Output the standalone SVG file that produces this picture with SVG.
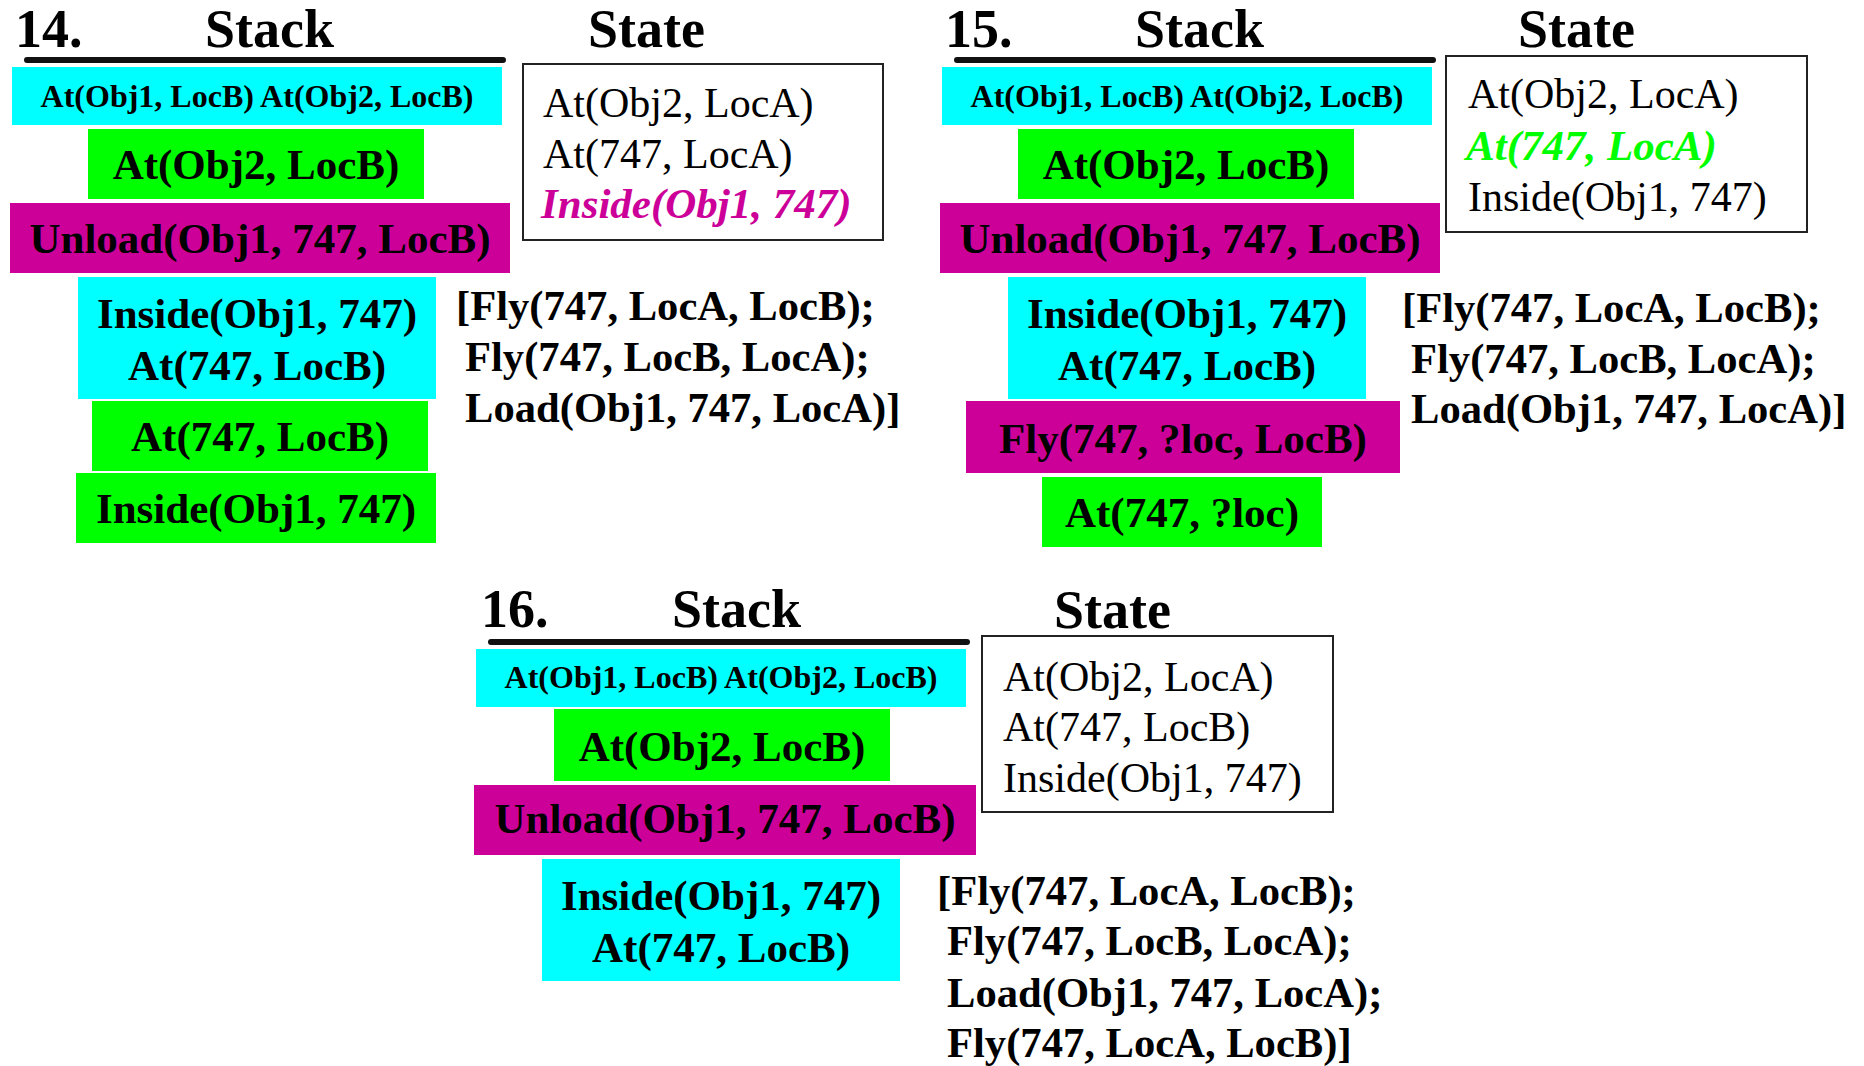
<svg xmlns="http://www.w3.org/2000/svg" width="1864" height="1066" viewBox="0 0 1864 1066">
  <style>
    text { font-family: "Liberation Serif", "Times New Roman", serif; fill: #000; }
    .head { font-size: 54px; font-weight: bold; }
    .goal { font-size: 43px; font-weight: bold; text-anchor: middle; }
    .goal-sm { font-size: 32px; font-weight: bold; text-anchor: middle; }
    .plan { font-size: 42.6px; font-weight: bold; }
    .state { font-size: 42px; }
    .hl-mag { font-size: 43px; font-weight: bold; font-style: italic; fill: #CC0099; }
    .hl-grn { font-size: 43px; font-weight: bold; font-style: italic; fill: #00FF00; }
    .rule { stroke: #111; stroke-width: 6; stroke-linecap: round; fill: none; }
    .box-state { fill: #fff; stroke: #222; stroke-width: 2; }
    .cyan { fill: #00FFFF; }
    .green { fill: #00FF00; }
    .mag { fill: #CC0099; }
  </style>

  <!-- Panel 14 -->
  <g id="panel14">
    <text class="head" x="15" y="47">14.</text>
    <text class="head" x="205" y="47">Stack</text>
    <text class="head" x="588" y="47">State</text>
    <line class="rule" x1="27" y1="60" x2="503" y2="60"/>
    <g id="p14-goal-top">
      <rect class="cyan" x="12" y="67" width="490" height="58"/>
      <text class="goal-sm" x="257" y="107">At(Obj1, LocB) At(Obj2, LocB)</text>
    </g>
    <g id="p14-at-obj2">
      <rect class="green" x="88" y="129" width="336" height="70"/>
      <text class="goal" x="256" y="179">At(Obj2, LocB)</text>
    </g>
    <g id="p14-unload">
      <rect class="mag" x="10" y="203" width="500" height="70"/>
      <text class="goal" x="260" y="253">Unload(Obj1, 747, LocB)</text>
    </g>
    <g id="p14-precond">
      <rect class="cyan" x="78" y="277" width="358" height="122"/>
      <text class="goal" x="257" y="328">Inside(Obj1, 747)</text>
      <text class="goal" x="257" y="380">At(747, LocB)</text>
    </g>
    <g id="p14-at-747">
      <rect class="green" x="92" y="401" width="336" height="70"/>
      <text class="goal" x="260" y="451">At(747, LocB)</text>
    </g>
    <g id="p14-inside">
      <rect class="green" x="76" y="473" width="360" height="70"/>
      <text class="goal" x="256" y="523">Inside(Obj1, 747)</text>
    </g>
    <g id="p14-state">
      <rect class="box-state" x="523" y="64" width="360" height="176"/>
      <text class="state" x="543" y="117">At(Obj2, LocA)</text>
      <text class="state" x="543" y="168">At(747, LocA)</text>
      <text class="state hl-mag" x="541" y="218">Inside(Obj1, 747)</text>
    </g>
    <g id="p14-plan">
      <text class="plan" x="456" y="320">[Fly(747, LocA, LocB);</text>
      <text class="plan" x="465" y="371">Fly(747, LocB, LocA);</text>
      <text class="plan" x="465" y="422">Load(Obj1, 747, LocA)]</text>
    </g>
  </g>

  <!-- Panel 15 -->
  <g id="panel15">
    <text class="head" x="945" y="47">15.</text>
    <text class="head" x="1135" y="47">Stack</text>
    <text class="head" x="1518" y="47">State</text>
    <line class="rule" x1="957" y1="60" x2="1433" y2="60"/>
    <g id="p15-goal-top">
      <rect class="cyan" x="942" y="67" width="490" height="58"/>
      <text class="goal-sm" x="1187" y="107">At(Obj1, LocB) At(Obj2, LocB)</text>
    </g>
    <g id="p15-at-obj2">
      <rect class="green" x="1018" y="129" width="336" height="70"/>
      <text class="goal" x="1186" y="179">At(Obj2, LocB)</text>
    </g>
    <g id="p15-unload">
      <rect class="mag" x="940" y="203" width="500" height="70"/>
      <text class="goal" x="1190" y="253">Unload(Obj1, 747, LocB)</text>
    </g>
    <g id="p15-precond">
      <rect class="cyan" x="1008" y="277" width="358" height="122"/>
      <text class="goal" x="1187" y="328">Inside(Obj1, 747)</text>
      <text class="goal" x="1187" y="380">At(747, LocB)</text>
    </g>
    <g id="p15-fly">
      <rect class="mag" x="966" y="401" width="434" height="72"/>
      <text class="goal" x="1183" y="453">Fly(747, ?loc, LocB)</text>
    </g>
    <g id="p15-at-loc">
      <rect class="green" x="1042" y="477" width="280" height="70"/>
      <text class="goal" x="1182" y="527">At(747, ?loc)</text>
    </g>
    <g id="p15-state">
      <rect class="box-state" x="1446" y="56" width="361" height="176"/>
      <text class="state" x="1468" y="108">At(Obj2, LocA)</text>
      <text class="state hl-grn" x="1466" y="160">At(747, LocA)</text>
      <text class="state" x="1468" y="211">Inside(Obj1, 747)</text>
    </g>
    <g id="p15-plan">
      <text class="plan" x="1402" y="322">[Fly(747, LocA, LocB);</text>
      <text class="plan" x="1411" y="373">Fly(747, LocB, LocA);</text>
      <text class="plan" x="1411" y="423">Load(Obj1, 747, LocA)]</text>
    </g>
  </g>

  <!-- Panel 16 -->
  <g id="panel16">
    <text class="head" x="481" y="627">16.</text>
    <text class="head" x="672" y="627">Stack</text>
    <text class="head" x="1054" y="628">State</text>
    <line class="rule" x1="491" y1="642" x2="967" y2="642"/>
    <g id="p16-goal-top">
      <rect class="cyan" x="476" y="649" width="490" height="58"/>
      <text class="goal-sm" x="721" y="688">At(Obj1, LocB) At(Obj2, LocB)</text>
    </g>
    <g id="p16-at-obj2">
      <rect class="green" x="554" y="709" width="336" height="72"/>
      <text class="goal" x="722" y="761">At(Obj2, LocB)</text>
    </g>
    <g id="p16-unload">
      <rect class="mag" x="474" y="785" width="502" height="70"/>
      <text class="goal" x="725" y="833">Unload(Obj1, 747, LocB)</text>
    </g>
    <g id="p16-precond">
      <rect class="cyan" x="542" y="859" width="358" height="122"/>
      <text class="goal" x="721" y="910">Inside(Obj1, 747)</text>
      <text class="goal" x="721" y="962">At(747, LocB)</text>
    </g>
    <g id="p16-state">
      <rect class="box-state" x="982" y="636" width="351" height="176"/>
      <text class="state" x="1003" y="691">At(Obj2, LocA)</text>
      <text class="state" x="1003" y="741">At(747, LocB)</text>
      <text class="state" x="1003" y="792">Inside(Obj1, 747)</text>
    </g>
    <g id="p16-plan">
      <text class="plan" x="937" y="905">[Fly(747, LocA, LocB);</text>
      <text class="plan" x="947" y="955">Fly(747, LocB, LocA);</text>
      <text class="plan" x="947" y="1007">Load(Obj1, 747, LocA);</text>
      <text class="plan" x="947" y="1057">Fly(747, LocA, LocB)]</text>
    </g>
  </g>

  <!-- no connectors in this figure -->
  <g id="connectors"/>
</svg>
